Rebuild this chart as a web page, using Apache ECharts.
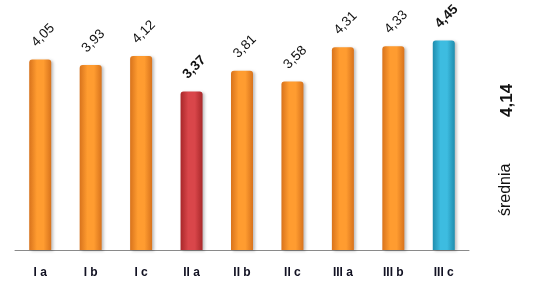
<!DOCTYPE html>
<html><head><meta charset="utf-8">
<script src="https://cdn.jsdelivr.net/npm/echarts@6/dist/echarts.min.js"></script>
<style>html,body{margin:0;padding:0;background:#fff}#c{width:538px;height:290px}</style>
</head><body><div id="c"></div>
<script>
var categories = ['I a','I b','I c','II a','II b','II c','III a','III b','III c'];
var values = [4.05, 3.93, 4.12, 3.37, 3.81, 3.58, 4.31, 4.33, 4.45];
var highlightLow = 'II a';
var highlightHigh = 'III c';
var averageLabel = 'średnia';
var averageValue = '4,14';

function grad(edge, mid) {
  return new echarts.graphic.LinearGradient(0, 0, 1, 0, [
    {offset: 0, color: edge}, {offset: 0.35, color: mid}, {offset: 0.65, color: mid}, {offset: 1, color: edge}
  ]);
}
var palettes = {
  normal: grad('#D8731C', '#FF9C30'),
  low: grad('#A8282A', '#D9464A'),
  high: grad('#1F8DAE', '#3DBCE0')
};
var data = values.map(function(v, i) {
  var c = categories[i];
  var kind = c === highlightLow ? 'low' : (c === highlightHigh ? 'high' : 'normal');
  var bold = kind !== 'normal';
  return {
    value: v,
    itemStyle: {color: palettes[kind], borderRadius: [3, 3, 0, 0], shadowColor: 'rgba(0,0,0,0.25)', shadowBlur: 3, shadowOffsetX: 2, shadowOffsetY: 1},
    label: {fontWeight: bold ? 'bold' : 'normal'}
  };
});
var chart = echarts.init(document.getElementById('c'));
chart.setOption({
  animation: false,
  grid: {left: 15, right: 69, top: 10, bottom: 40},
  xAxis: {
    type: 'category', data: categories,
    axisLine: {lineStyle: {color: '#8a8a8a'}},
    axisTick: {length: 5, lineStyle: {color: '#8a8a8a'}},
    axisLabel: {color: '#111122', fontWeight: 'bold', fontSize: 12, margin: 17, fontFamily: 'Liberation Sans'}
  },
  yAxis: {type: 'value', min: 0, max: 5.1, show: false, splitLine: {show: false}},
  series: [{
    type: 'bar', data: data, barWidth: 22,
    label: {
      show: true, position: 'top', distance: 0, offset: [19, -15], rotate: 45,
      align: 'center', verticalAlign: 'middle', fontSize: 13.5, color: '#111',
      fontFamily: 'Liberation Sans',
      formatter: function(p) { return p.value.toFixed(2).replace('.', ','); }
    }
  }],
  graphic: [
    {type: 'text', rotation: Math.PI / 2, x: 506, y: 216, style: {text: averageLabel, font: '16px "Liberation Sans"', fill: '#111', textAlign: 'left', textVerticalAlign: 'middle'}},
    {type: 'text', rotation: Math.PI / 2, x: 507, y: 117, style: {text: averageValue, font: 'bold 17px "Liberation Sans"', fill: '#111', textAlign: 'left', textVerticalAlign: 'middle'}}
  ]
});
</script></body></html>
